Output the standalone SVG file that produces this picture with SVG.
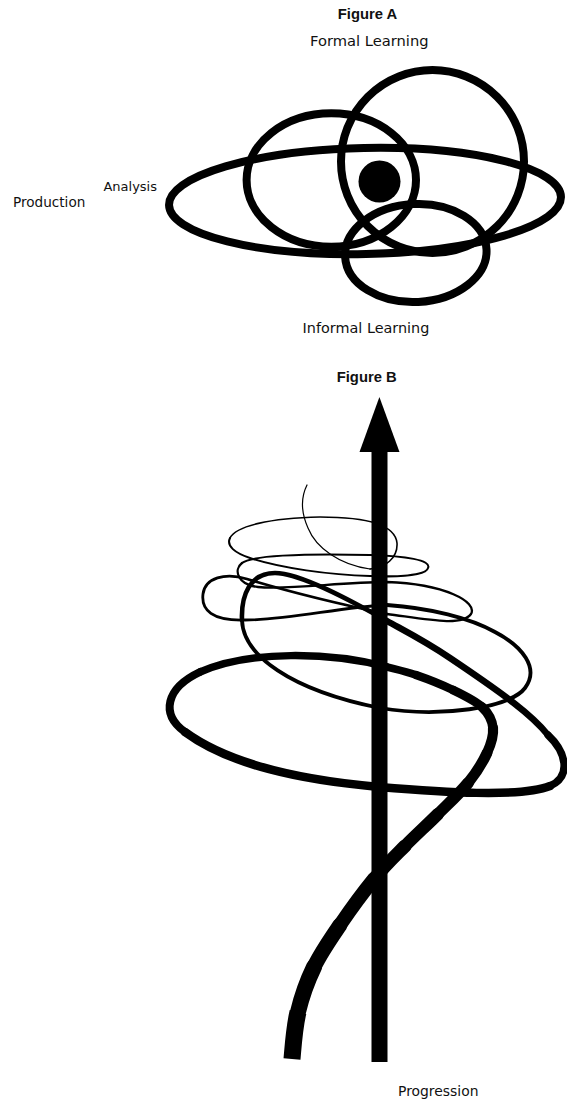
<svg xmlns="http://www.w3.org/2000/svg" width="567" height="1101" viewBox="0 0 567 1101">
<style>
.lbl{font-family:"DejaVu Sans","Liberation Sans",sans-serif;fill:#111;}
.ttl{font-family:"Liberation Sans","DejaVu Sans",sans-serif;font-weight:bold;font-size:14.8px;fill:#111;}
.ring{fill:none;stroke:#000;stroke-width:8;}
.sp{fill:none;stroke:#000;stroke-linecap:round;stroke-linejoin:round;}
</style>
<rect width="567" height="1101" fill="#fff"/>

<g id="figureA">
  <text id="figA-title" class="ttl" x="367.5" y="19.3" text-anchor="middle">Figure A</text>
  <g id="formal-learning"><circle class="ring" cx="432.5" cy="161.5" r="91.5"/><text class="lbl" x="369.3" y="46" font-size="14.7" text-anchor="middle">Formal Learning</text></g>
  <g id="production"><ellipse class="ring" cx="365" cy="201" rx="196" ry="53" transform="rotate(-1.2 365 201)"/><text class="lbl" x="13" y="207.3" font-size="13.6">Production</text></g>
  <g id="analysis"><ellipse class="ring" cx="331.3" cy="180" rx="84.7" ry="66.7"/><text class="lbl" x="157" y="190.5" font-size="13" text-anchor="end">Analysis</text></g>
  <g id="informal-learning"><ellipse class="ring" cx="415.8" cy="253" rx="70.8" ry="49" transform="rotate(-3 415.8 253)"/><text class="lbl" x="366" y="332.5" font-size="14.4" text-anchor="middle">Informal Learning</text></g>
  <g id="core"><circle cx="379.5" cy="181.5" r="21" fill="#000"/></g>
</g>

<g id="figureB">
  <text id="figB-title" class="ttl" x="366.7" y="382" text-anchor="middle">Figure B</text>
  <g id="spiral">
    <path fill="none" stroke="#000" stroke-width="17" stroke-linecap="butt" d="M292,1059 C293.3,1044.3 294.3,1027.5 298,1012"/>
    <path class="sp" stroke-width="16" d="M298,1012 C301.7,996.5 307,981.5 314,967"/>
    <path class="sp" stroke-width="15" d="M314,967 C321,952.5 330,939.7 340,925"/>
    <path class="sp" stroke-width="14" d="M340,925 C350,910.3 363.2,892.2 374,879"/>
    <path class="sp" stroke-width="13.2" d="M374,879 C384.8,865.8 394.3,856.8 405,846"/>
    <path class="sp" stroke-width="12.4" d="M405,846 C415.7,835.2 427.5,824.5 438,814"/>
    <path class="sp" stroke-width="11.6" d="M438,814 C448.5,803.5 459.8,793.2 468,783"/>
    <path class="sp" stroke-width="10.8" d="M468,783 C476.2,772.8 482.8,762.2 487,753"/>
    <path class="sp" stroke-width="10.2" d="M487,753 C491.2,743.8 493.8,735.7 493,728"/>
    <path class="sp" stroke-width="9.6" d="M493,728 C492.2,720.3 488.7,713.3 482,707"/>
    <path class="sp" stroke-width="9" d="M482,707 C475.3,700.7 464,695.3 453,690"/>
    <path class="sp" stroke-width="8.4" d="M453,690 C442,684.7 427,678.8 416,675"/>
    <path class="sp" stroke-width="7.9" d="M416,675 C405,671.2 398,669.8 387,667"/>
    <path class="sp" stroke-width="7.5" d="M387,667 C330,652 250,650 200,672"/>
    <path class="sp" stroke-width="8" d="M200,672 C166,688 160,714 185,732"/>
    <path class="sp" stroke-width="8.5" d="M185,732 C230,765 300,780 379,787 C440,792 520,798 550,786"/>
    <path class="sp" stroke-width="7.5" d="M550,786 C572,776 566,752 548,735"/>
    <path class="sp" stroke-width="6.5" d="M548,735 C532,715 505,695 450,658 C425,641 405,631 387,621"/>
    <path class="sp" stroke-width="4.6" d="M387,621 C350,600 300,573 275,573 C250,573 241,595 242,620"/>
    <path class="sp" stroke-width="3.8" d="M242,620 C243,655 290,690 380,708 C440,718 510,708 525,688 C540,668 522,646 495,632 C470,618 430,608 387,605"/>
    <path class="sp" stroke-width="2.8" d="M387,605 C340,607 290,620 245,620 C212,621 201,610 203,594 C205,578 225,572 247,579 C280,589 330,602 387,614"/>
    <path class="sp" stroke-width="2.3" d="M387,614 C425,619 462,627 471,614 C478,602 445,584 387,582 C340,582 290,590 258,587 C238,585 233,570 242,563"/>
    <path class="sp" stroke-width="2" d="M242,563 C250,556 300,553 370,555 C405,556 432,560 428,568 C426,576 395,577 370,576 C330,575 280,568 250,558 C235,553 226,546 230,538"/>
    <path class="sp" stroke-width="1.6" d="M230,538 C236,526 270,518 320,517 C360,517 395,523 397,543 C398,558 385,568 370,569"/>
    <path class="sp" stroke-width="1.2" d="M370,569 C340,565 316,548 308,528 C300,510 302,495 307,485"/>
  </g>
  <g id="connectors">
    <g id="progression-arrow">
      <rect x="371.5" y="448" width="16" height="614" fill="#000"/>
      <polygon points="379.4,397 359.5,452 399.5,452" fill="#000"/>
    </g>
  </g>
  <text id="progression" class="lbl" x="398" y="1096" font-size="13.9">Progression</text>
</g>
</svg>
